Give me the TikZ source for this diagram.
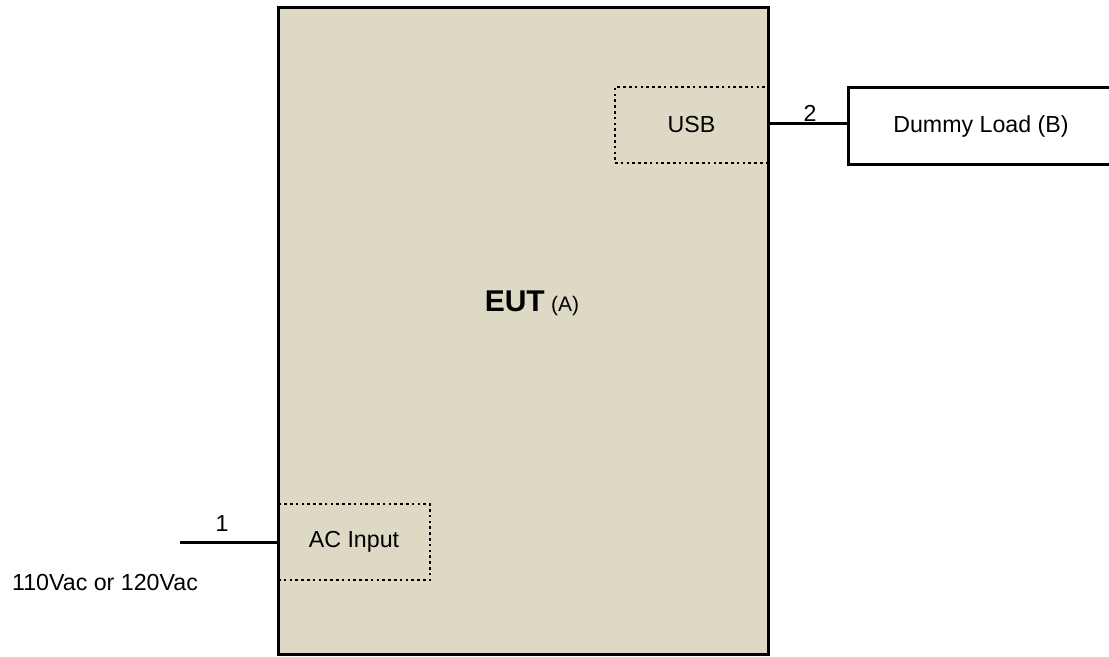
\documentclass[tikz,border=0pt]{standalone}
\usepackage{fontspec}
\setmainfont{Liberation Sans}
\definecolor{eutfill}{RGB}{221,217,196}
\begin{document}
\begin{tikzpicture}[x=0.5pt,y=-0.5pt,
  solidbox/.style={draw=black,line width=1.5pt,inner sep=0pt},
  dotbox/.style={draw=black,line width=1.3pt,dash pattern=on 1.3pt off 1.6pt,inner sep=0pt,font=\fontsize{11.6pt}{13pt}\selectfont},
  wire/.style={draw=black,line width=1.5pt},
  lbl/.style={inner sep=0pt,font=\fontsize{11.6pt}{13pt}\selectfont}]
\useasboundingbox (0,0) rectangle (1109,657);
\node[solidbox,fill=eutfill,minimum width=245pt,minimum height=323pt] (eut) at (523,331) {};
\node[lbl] (euttext) at (532,303) {{\fontsize{15pt}{17pt}\selectfont\bfseries EUT} {\fontsize{10.5pt}{12pt}\selectfont (A)}};
\node[dotbox,minimum width=76.5pt,minimum height=38pt] (usb) at (691.5,125) {USB};
\node[dotbox,minimum width=76pt,minimum height=38pt] (ac) at (354,542) {AC Input};
\node[solidbox,fill=white,minimum width=133pt,minimum height=38.5pt,lbl] (load) at (981,126.5) {Dummy Load (B)};
\draw[line width=1.5pt] (278,8) rectangle (768,654);
\coordinate (src) at (180,543);
\draw[wire] (usb.east |- 0,124) -- (load.west |- 0,124);
\draw[wire] (src) -- (ac.west |- src);
\node[lbl] (n1) at (222,524) {1};
\node[lbl] (n2) at (810,113) {2};
\node[lbl] (volt) at (105,583) {110Vac or 120Vac};
\end{tikzpicture}
\end{document}
